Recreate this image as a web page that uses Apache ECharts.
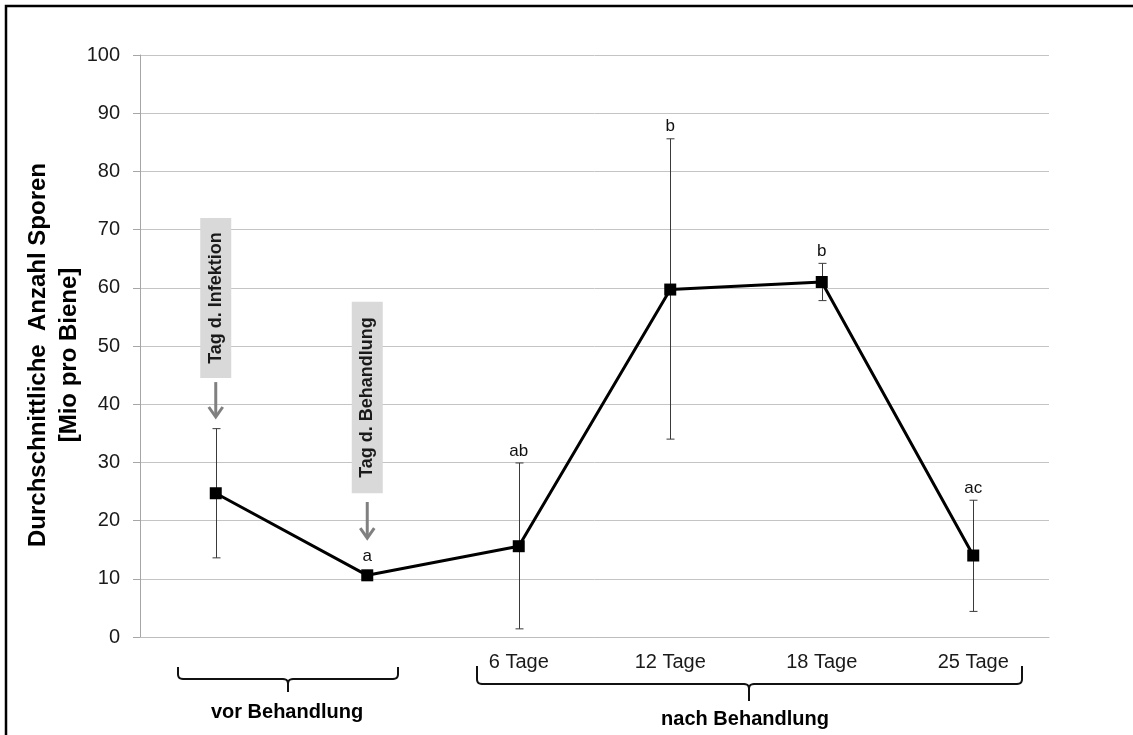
<!DOCTYPE html>
<html>
<head>
<meta charset="utf-8">
<title>Durchschnittliche Anzahl Sporen</title>
<script src="https://cdn.jsdelivr.net/npm/echarts@6/dist/echarts.min.js"></script>
<style>
  html, body { margin: 0; padding: 0; background: #fff; }
  #chart { width: 1133px; height: 735px; }
</style>
</head>
<body>
<div id="chart"></div>
<script>
// ---- data ----
const categories = ['', '', '6 Tage', '12 Tage', '18 Tage', '25 Tage'];
const meanSpores = [24.7, 10.6, 15.6, 59.7, 61.0, 14.0];
const errLow = [13.6, null, 1.4, 34.0, 57.8, 4.4];
const errHigh = [35.8, null, 29.9, 85.6, 64.2, 23.5];
const groupLetters = ['', 'a', 'ab', 'b', 'b', 'ac'];
const yMin = 0, yMax = 100, yStep = 10;
const yTitleLines = ['Durchschnittliche  Anzahl Sporen', '[Mio pro Biene]'];
const eventLabels = ['Tag d. Infektion', 'Tag d. Behandlung'];
const phaseLabels = ['vor Behandlung', 'nach Behandlung'];

// ---- layout ----
const FONT = '"Liberation Sans", Arial, Helvetica, sans-serif';
const GRID = { left: 140, right: 84, top: 55, bottom: 98 };
// event boxes: category index, box value range, arrow value range
const eventLayout = [
  { index: 0, boxLo: 44.5, boxHi: 72.0, arrowHi: 43.8, arrowLo: 37.8 },
  { index: 1, boxLo: 24.7, boxHi: 57.6, arrowHi: 23.2, arrowLo: 17.0 }
];
// phase braces in pixels
const braceLayout = [
  { x1: 178, x2: 398, xm: 288, yTop: 667, yH: 679, yTip: 692, tx: 287, ty: 712 },
  { x1: 477, x2: 1022, xm: 749, yTop: 666, yH: 684, yTip: 701, tx: 745, ty: 719 }
];

const chart = echarts.init(document.getElementById('chart'), null, { renderer: 'canvas' });

const errData = [];
categories.forEach((c, i) => {
  if (errLow[i] != null && errHigh[i] != null) errData.push([i, errLow[i], errHigh[i]]);
});
const letterData = categories.map((c, i) => [i, meanSpores[i], errHigh[i] == null ? NaN : errHigh[i]]);

chart.setOption({
  animation: false,
  backgroundColor: '#fff',
  textStyle: { fontFamily: FONT },
  grid: { left: GRID.left, right: GRID.right, top: GRID.top, bottom: GRID.bottom, containLabel: false },
  xAxis: {
    type: 'category',
    data: categories,
    boundaryGap: true,
    axisLine: { show: true, lineStyle: { color: '#bdbdbd', width: 1 } },
    axisTick: { show: false },
    axisLabel: { color: '#1a1a1a', fontSize: 20, fontFamily: FONT, margin: 15, interval: 0 },
    splitLine: { show: false }
  },
  yAxis: {
    type: 'value',
    min: yMin, max: yMax, interval: yStep,
    axisLine: { show: true, lineStyle: { color: '#a6a6a6', width: 1 } },
    axisTick: { show: true, length: 7, lineStyle: { color: '#a6a6a6' } },
    axisLabel: { color: '#1a1a1a', fontSize: 20, fontFamily: FONT, margin: 20 },
    splitLine: { show: true, lineStyle: { color: '#c4c4c4', width: 1 } }
  },
  series: [
    {
      type: 'custom',
      name: 'errors',
      z: 1,
      data: errData,
      renderItem(params, api) {
        const i = api.value(0);
        const lo = api.coord([i, api.value(1)]);
        const hi = api.coord([i, api.value(2)]);
        const x = Math.round(lo[0]) + 0.5;
        const st = { stroke: '#3a3a3a', lineWidth: 1 };
        return {
          type: 'group',
          children: [
            { type: 'line', shape: { x1: x, y1: hi[1], x2: x, y2: lo[1] }, style: st },
            { type: 'line', shape: { x1: x - 4, y1: hi[1], x2: x + 4, y2: hi[1] }, style: st },
            { type: 'line', shape: { x1: x - 4, y1: lo[1], x2: x + 4, y2: lo[1] }, style: st }
          ]
        };
      }
    },
    {
      type: 'line',
      name: 'Sporen',
      z: 3,
      data: meanSpores,
      symbol: 'rect',
      symbolSize: 12,
      lineStyle: { color: '#000', width: 3 },
      itemStyle: { color: '#000' }
    },
    {
      type: 'custom',
      name: 'letters',
      z: 4,
      data: letterData,
      renderItem(params, api) {
        const i = api.value(0);
        const txt = groupLetters[params.dataIndex];
        if (!txt) return null;
        const hiVal = api.value(2);
        let y;
        if (isNaN(hiVal)) {
          y = api.coord([i, api.value(1)])[1] - 19;
        } else {
          y = api.coord([i, hiVal])[1] - 12;
        }
        const x = api.coord([i, 0])[0];
        return {
          type: 'text',
          x: x, y: y,
          style: { text: txt, fill: '#111', font: '17px ' + FONT, align: 'center', verticalAlign: 'middle' }
        };
      }
    }
  ]
});

// curly brace as a polyline with rounded corners
function quad(p0, c, p1, n) {
  const pts = [];
  for (let k = 1; k <= n; k++) {
    const t = k / n, u = 1 - t;
    pts.push([u * u * p0[0] + 2 * u * t * c[0] + t * t * p1[0], u * u * p0[1] + 2 * u * t * c[1] + t * t * p1[1]]);
  }
  return pts;
}
function bracePieces(b) {
  const r = 5;
  const left = [[b.x1, b.yTop], [b.x1, b.yH - r]]
    .concat(quad([b.x1, b.yH - r], [b.x1, b.yH], [b.x1 + r, b.yH], 6))
    .concat([[b.xm - r, b.yH]])
    .concat(quad([b.xm - r, b.yH], [b.xm, b.yH], [b.xm, b.yH + r], 6))
    .concat([[b.xm, b.yTip]]);
  const right = [[b.xm, b.yH + r]]
    .concat(quad([b.xm, b.yH + r], [b.xm, b.yH], [b.xm + r, b.yH], 6))
    .concat([[b.x2 - r, b.yH]])
    .concat(quad([b.x2 - r, b.yH], [b.x2, b.yH], [b.x2, b.yH - r], 6))
    .concat([[b.x2, b.yTop]]);
  return [left, right];
}

const graphics = [];
// outer frame
graphics.push({
  type: 'rect', z: 10, silent: true,
  shape: { x: 6, y: 6, width: 1400, height: 1000 },
  style: { fill: 'none', stroke: '#000', lineWidth: 2.5 }
});
// y-axis title
graphics.push({
  type: 'text', x: 38, y: 355, rotation: Math.PI / 2, z: 10,
  style: { text: yTitleLines[0], font: 'bold 24px ' + FONT, fill: '#000', align: 'center', verticalAlign: 'middle' }
});
graphics.push({
  type: 'text', x: 69, y: 355, rotation: Math.PI / 2, z: 10,
  style: { text: yTitleLines[1], font: 'bold 24px ' + FONT, fill: '#000', align: 'center', verticalAlign: 'middle' }
});
// event boxes and arrows
eventLayout.forEach((ev, k) => {
  const top = chart.convertToPixel({ xAxisIndex: 0, yAxisIndex: 0 }, [ev.index, ev.boxHi]);
  const bot = chart.convertToPixel({ xAxisIndex: 0, yAxisIndex: 0 }, [ev.index, ev.boxLo]);
  const a1 = chart.convertToPixel({ xAxisIndex: 0, yAxisIndex: 0 }, [ev.index, ev.arrowHi]);
  const a2 = chart.convertToPixel({ xAxisIndex: 0, yAxisIndex: 0 }, [ev.index, ev.arrowLo]);
  const cx = top[0];
  const w = 31;
  graphics.push({
    type: 'rect', z: 5,
    shape: { x: cx - w / 2, y: top[1], width: w, height: bot[1] - top[1] },
    style: { fill: '#d9d9d9' }
  });
  graphics.push({
    type: 'text', z: 6, x: cx, y: (top[1] + bot[1]) / 2, rotation: Math.PI / 2,
    style: { text: eventLabels[k], font: 'bold 18px ' + FONT, fill: '#1a1a1a', align: 'center', verticalAlign: 'middle' }
  });
  graphics.push({
    type: 'line', z: 6,
    shape: { x1: cx, y1: a1[1], x2: cx, y2: a2[1] - 1 },
    style: { stroke: '#808080', lineWidth: 3 }
  });
  graphics.push({
    type: 'polyline', z: 6,
    shape: { points: [[cx - 7, a2[1] - 10], [cx, a2[1]], [cx + 7, a2[1] - 10]] },
    style: { fill: 'none', stroke: '#808080', lineWidth: 3, lineJoin: 'miter' }
  });
});
// phase braces with captions
braceLayout.forEach((b, k) => {
  bracePieces(b).forEach(pts => {
    graphics.push({
      type: 'polyline', z: 6,
      shape: { points: pts },
      style: { fill: 'none', stroke: '#111', lineWidth: 2 }
    });
  });
  graphics.push({
    type: 'text', z: 6, x: b.tx, y: b.ty,
    style: { text: phaseLabels[k], font: 'bold 20px ' + FONT, fill: '#000', align: 'center', verticalAlign: 'middle' }
  });
});

chart.setOption({ graphic: graphics });
</script>
</body>
</html>
